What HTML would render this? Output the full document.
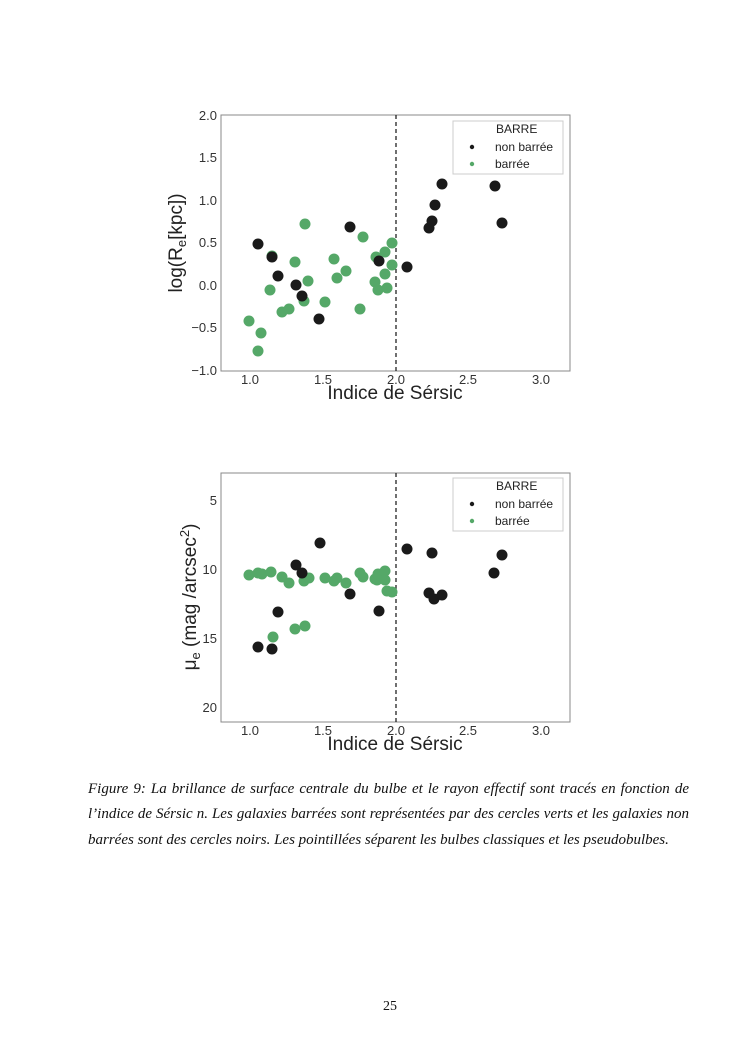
<!DOCTYPE html>
<html><head><meta charset="utf-8"><style>
body{margin:0;background:#fff;width:745px;height:1053px;position:relative;overflow:hidden}
svg{position:absolute;left:0;top:0}
.cap{position:absolute;left:88px;width:601px;font:italic 15px "Liberation Serif",serif;color:#111;white-space:nowrap}
.j{text-align:justify;text-align-last:justify}
</style></head><body>
<svg width="745" height="1053" xmlns="http://www.w3.org/2000/svg" font-family="Liberation Sans, sans-serif">
<g id="p1">
<rect x="221" y="115" width="349" height="256" fill="none" stroke="#888" stroke-width="1"/>
<line x1="396" y1="115" x2="396" y2="371" stroke="#222" stroke-width="1.3" stroke-dasharray="4,3"/>
<g font-size="13" fill="#333" text-anchor="end">
<text x="217" y="120">2.0</text><text x="217" y="162">1.5</text><text x="217" y="205">1.0</text><text x="217" y="247">0.5</text><text x="217" y="290">0.0</text><text x="217" y="332">−0.5</text><text x="217" y="375">−1.0</text>
</g>
<g font-size="13" fill="#333" text-anchor="middle">
<text x="250" y="384">1.0</text><text x="323" y="384">1.5</text><text x="396" y="384">2.0</text><text x="468" y="384">2.5</text><text x="541" y="384">3.0</text>
</g>
<text x="395" y="399" font-size="19" fill="#222" text-anchor="middle">Indice de Sérsic</text>
<text transform="translate(182,243) rotate(-90)" font-size="19" fill="#222" text-anchor="middle">log(R<tspan font-size="13" dy="4">e</tspan><tspan dy="-4">[kpc])</tspan></text>
<g fill="#55a868">
<circle cx="249" cy="321" r="5.5"/><circle cx="261" cy="333" r="5.5"/><circle cx="258" cy="351" r="5.5"/><circle cx="270" cy="290" r="5.5"/><circle cx="282" cy="312" r="5.5"/><circle cx="289" cy="309" r="5.5"/><circle cx="295" cy="262" r="5.5"/><circle cx="305" cy="224" r="5.5"/><circle cx="308" cy="281" r="5.5"/><circle cx="304" cy="301" r="5.5"/><circle cx="325" cy="302" r="5.5"/><circle cx="334" cy="259" r="5.5"/><circle cx="337" cy="278" r="5.5"/><circle cx="346" cy="271" r="5.5"/><circle cx="360" cy="309" r="5.5"/><circle cx="363" cy="237" r="5.5"/><circle cx="375" cy="282" r="5.5"/><circle cx="376" cy="257" r="5.5"/><circle cx="378" cy="290" r="5.5"/><circle cx="385" cy="252" r="5.5"/><circle cx="385" cy="274" r="5.5"/><circle cx="387" cy="288" r="5.5"/><circle cx="392" cy="243" r="5.5"/><circle cx="392" cy="265" r="5.5"/><circle cx="272" cy="256" r="5.5"/>
</g>
<g fill="#1a1a1a">
<circle cx="258" cy="244" r="5.5"/><circle cx="272" cy="257" r="5.5"/><circle cx="278" cy="276" r="5.5"/><circle cx="296" cy="285" r="5.5"/><circle cx="302" cy="296" r="5.5"/><circle cx="319" cy="319" r="5.5"/><circle cx="350" cy="227" r="5.5"/><circle cx="379" cy="261" r="5.5"/><circle cx="407" cy="267" r="5.5"/><circle cx="429" cy="228" r="5.5"/><circle cx="432" cy="221" r="5.5"/><circle cx="435" cy="205" r="5.5"/><circle cx="442" cy="184" r="5.5"/><circle cx="495" cy="186" r="5.5"/><circle cx="502" cy="223" r="5.5"/>
</g>
<rect x="453" y="121" width="110" height="53" fill="#fff" stroke="#ccc" stroke-width="1"/>
<g font-size="12" fill="#222"><text x="496" y="133">BARRE</text><text x="495" y="151">non barrée</text><text x="495" y="168">barrée</text></g>
<circle cx="472" cy="147" r="2.2" fill="#1a1a1a"/><circle cx="472" cy="164" r="2.2" fill="#55a868"/>
</g>
<g id="p2">
<rect x="221" y="473" width="349" height="249" fill="none" stroke="#888" stroke-width="1"/>
<line x1="396" y1="473" x2="396" y2="722" stroke="#222" stroke-width="1.3" stroke-dasharray="4,3"/>
<g font-size="13" fill="#333" text-anchor="end">
<text x="217" y="505">5</text><text x="217" y="574">10</text><text x="217" y="643">15</text><text x="217" y="712">20</text>
</g>
<g font-size="13" fill="#333" text-anchor="middle">
<text x="250" y="735">1.0</text><text x="323" y="735">1.5</text><text x="396" y="735">2.0</text><text x="468" y="735">2.5</text><text x="541" y="735">3.0</text>
</g>
<text x="395" y="750" font-size="19" fill="#222" text-anchor="middle">Indice de Sérsic</text>
<text transform="translate(196,597) rotate(-90)" font-size="19" fill="#222" text-anchor="middle">μ<tspan font-size="13" dy="4">e</tspan><tspan dy="-4"> (mag /arcsec</tspan><tspan font-size="13" dy="-7">2</tspan><tspan dy="7">)</tspan></text>
<g fill="#55a868">
<circle cx="249" cy="575" r="5.5"/><circle cx="258" cy="573" r="5.5"/><circle cx="262" cy="574" r="5.5"/><circle cx="271" cy="572" r="5.5"/><circle cx="282" cy="577" r="5.5"/><circle cx="289" cy="583" r="5.5"/><circle cx="304" cy="581" r="5.5"/><circle cx="309" cy="578" r="5.5"/><circle cx="273" cy="637" r="5.5"/><circle cx="295" cy="629" r="5.5"/><circle cx="305" cy="626" r="5.5"/><circle cx="325" cy="578" r="5.5"/><circle cx="334" cy="581" r="5.5"/><circle cx="337" cy="578" r="5.5"/><circle cx="346" cy="583" r="5.5"/><circle cx="360" cy="573" r="5.5"/><circle cx="363" cy="577" r="5.5"/><circle cx="375" cy="579" r="5.5"/><circle cx="377" cy="580" r="5.5"/><circle cx="378" cy="574" r="5.5"/><circle cx="385" cy="571" r="5.5"/><circle cx="385" cy="580" r="5.5"/><circle cx="387" cy="591" r="5.5"/><circle cx="392" cy="592" r="5.5"/>
</g>
<g fill="#1a1a1a">
<circle cx="320" cy="543" r="5.5"/><circle cx="296" cy="565" r="5.5"/><circle cx="302" cy="573" r="5.5"/><circle cx="278" cy="612" r="5.5"/><circle cx="258" cy="647" r="5.5"/><circle cx="272" cy="649" r="5.5"/><circle cx="350" cy="594" r="5.5"/><circle cx="379" cy="611" r="5.5"/><circle cx="407" cy="549" r="5.5"/><circle cx="432" cy="553" r="5.5"/><circle cx="502" cy="555" r="5.5"/><circle cx="494" cy="573" r="5.5"/><circle cx="429" cy="593" r="5.5"/><circle cx="434" cy="599" r="5.5"/><circle cx="442" cy="595" r="5.5"/>
</g>
<rect x="453" y="478" width="110" height="53" fill="#fff" stroke="#ccc" stroke-width="1"/>
<g font-size="12" fill="#222"><text x="496" y="490">BARRE</text><text x="495" y="508">non barrée</text><text x="495" y="525">barrée</text></g>
<circle cx="472" cy="504" r="2.2" fill="#1a1a1a"/><circle cx="472" cy="521" r="2.2" fill="#55a868"/>
</g>
</svg>
<div class="cap j" style="top:781px">Figure 9: La brillance de surface centrale du bulbe et le rayon effectif sont tracés en fonction de</div>
<div class="cap j" style="top:806px">l’indice de Sérsic n. Les galaxies barrées sont représentées par des cercles verts et les galaxies non</div>
<div class="cap" style="top:832px">barrées sont des cercles noirs. Les pointillées séparent les bulbes classiques et les pseudobulbes.</div>
<div style="position:absolute;left:0;width:780px;text-align:center;top:999px;font:14px 'Liberation Serif',serif;color:#111">25</div>
</body></html>
